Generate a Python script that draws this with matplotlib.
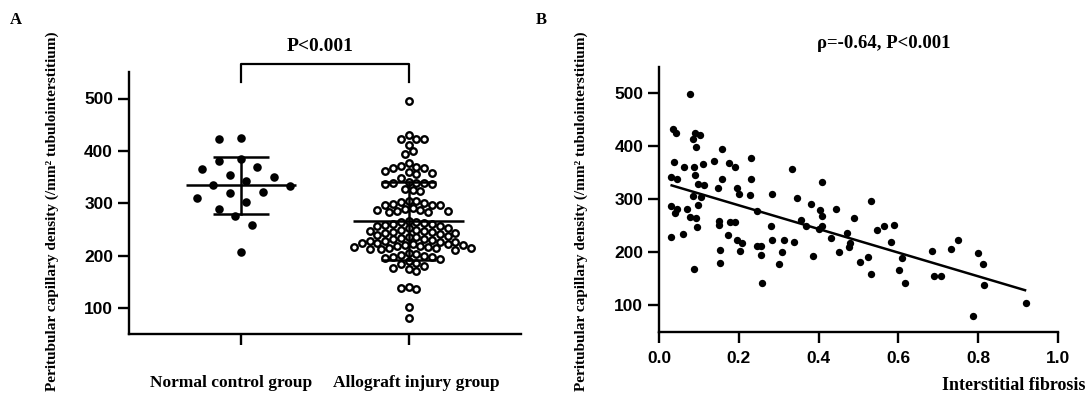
import numpy as np
import matplotlib
matplotlib.use("Agg")
import matplotlib.pyplot as plt
from matplotlib.transforms import ScaledTranslation

# ---------------- data ----------------
groups = ["Normal control group", "Allograft injury group"]

normal_density = [424, 422, 384, 380, 369, 366, 354, 351, 343, 334, 333, 322,
                  320, 311, 303, 290, 276, 259, 208]

allograft_density = [496,
                     431, 423, 423, 422, 412,
                     399, 394,
                     376, 371, 370, 367, 367, 362, 359, 358, 355,
                     348, 340, 338, 338, 338, 337, 336, 327, 325, 323,
                     304, 304, 303, 301, 299, 297, 297, 296,
                     291, 290, 288, 287, 286, 285, 284, 283,
                     267, 265, 264, 262, 261, 260, 258, 257, 256,
                     253, 252, 250, 249, 248, 247, 246, 245, 244, 243, 242, 240, 238, 236,
                     235, 234, 232, 231, 230, 229, 228, 227, 226, 225, 224, 223, 222, 221,
                     220, 219, 218, 217, 216, 215, 215, 214, 213, 212, 211,
                     205, 203, 201, 200, 198, 197, 195, 193,
                     190, 187, 184, 180, 177, 174, 171,
                     141, 139, 136,
                     102,
                     81]

fibrosis = [0.077, 0.034, 0.041, 0.090, 0.102, 0.085, 0.092, 0.157, 0.037, 0.062,
            0.110, 0.138, 0.174, 0.190, 0.229, 0.087, 0.090, 0.029, 0.044, 0.158,
            0.230, 0.096, 0.113, 0.147, 0.196, 0.085, 0.105, 0.200, 0.228, 0.029,
            0.098, 0.045, 0.069, 0.039, 0.077, 0.092, 0.244, 0.150, 0.151, 0.177,
            0.190, 0.095, 0.029, 0.059, 0.173, 0.194, 0.207, 0.203, 0.152, 0.245,
            0.255, 0.152, 0.088, 0.258,
            0.332, 0.408, 0.283, 0.345, 0.381, 0.403, 0.409, 0.443, 0.356, 0.367,
            0.408, 0.401, 0.281, 0.430, 0.470, 0.489, 0.479, 0.477, 0.283, 0.314,
            0.338, 0.255, 0.309, 0.385, 0.450, 0.300, 0.504, 0.523, 0.531, 0.532,
            0.547, 0.563, 0.589, 0.582, 0.610, 0.602, 0.617, 0.684, 0.689, 0.706,
            0.732, 0.751, 0.799, 0.812, 0.815, 0.787, 0.920]

capillary = [498, 433, 425, 425, 422, 414, 399, 395, 370, 361,
             367, 373, 368, 360, 378, 360, 346, 342, 338, 339,
             338, 328, 326, 321, 322, 306, 304, 309, 307, 288,
             289, 281, 281, 273, 267, 265, 278, 259, 251, 256,
             256, 248, 228, 234, 232, 222, 218, 203, 204, 211,
             194, 180, 168, 142,
             357, 332, 310, 302, 290, 280, 268, 282, 260, 250,
             250, 244, 249, 227, 236, 264, 217, 210, 222, 223,
             219, 212, 200, 193, 200, 178, 181, 190, 297, 158,
             242, 249, 251, 219, 188, 166, 142, 203, 155, 155,
             205, 223, 198, 178, 137, 80, 103]

fit_x = [0.031, 0.918]
fit_y = [326, 128]

y_ticks = [100, 200, 300, 400, 500]
x_ticks_B = [0.0, 0.2, 0.4, 0.6, 0.8, 1.0]

# ---------------- layout ----------------
W, H = 1091, 399
fig = plt.figure(figsize=(W / 100, H / 100), dpi=100)
serif = "Liberation Serif"
sans = "Liberation Sans"

axA = fig.add_axes([129 / W, 1 - 334.3 / H, (520.6 - 129) / W, (334.3 - 72.3) / H])
axB = fig.add_axes([659.3 / W, 1 - 331.5 / H, 398.4 / W, (331.5 - 66.8) / H])

A_xlim = (-0.667, 1.667)
ylim = (50, 550)


def style_axes(ax):
    for s in ["top", "right"]:
        ax.spines[s].set_visible(False)
    for s in ["left", "bottom"]:
        ax.spines[s].set_linewidth(1.7)
    ax.tick_params(width=1.7, length=8, labelsize=12.5)
    for lab in ax.get_yticklabels():
        lab.set_fontfamily(sans)
        lab.set_fontweight("bold")


def swarm_offsets(vals, d_px, step_px, xppu, yppu):
    vals = np.asarray(vals, float)
    order = np.argsort(vals)[::-1]
    px, py = [], []
    offs = np.zeros(len(vals))
    for n, i in enumerate(order):
        y = vals[i] * yppu
        cands = [0.0]
        for k in range(1, 80):
            if n % 2 == 0:
                cands += [k * step_px, -k * step_px]
            else:
                cands += [-k * step_px, k * step_px]
        chosen = 0.0
        for c in cands:
            ok = True
            for qx, qy in zip(px, py):
                if (c - qx) ** 2 + (y - qy) ** 2 < d_px ** 2:
                    ok = False
                    break
            if ok:
                chosen = c
                break
        px.append(chosen)
        py.append(y)
        offs[i] = chosen / xppu
    return offs


# ---------------- panel A ----------------
axA.set_xlim(*A_xlim)
axA.set_ylim(*ylim)
posA = axA.get_position()
xppu = posA.width * W / (A_xlim[1] - A_xlim[0])
yppu = posA.height * H / (ylim[1] - ylim[0])

off_n = swarm_offsets(normal_density, 17.0, 5.5, xppu, yppu)
off_a = swarm_offsets(allograft_density, 7.8, 3.9, xppu, yppu)

axA.scatter(0 + off_n, normal_density, s=38, color="black", zorder=2, linewidths=0)
axA.scatter(1 + off_a, allograft_density, s=22, facecolor="white",
            edgecolor="black", linewidths=1.7, zorder=2)

for xc, vals in [(0, normal_density), (1, allograft_density)]:
    m = np.mean(vals)
    sd = np.std(vals, ddof=1)
    axA.plot([xc - 0.33, xc + 0.33], [m, m], color="black", lw=1.8, zorder=3,
             solid_capstyle="butt")
    axA.plot([xc, xc], [m - sd, m + sd], color="black", lw=1.8, zorder=3)
    for yy in (m - sd, m + sd):
        axA.plot([xc - 0.165, xc + 0.165], [yy, yy], color="black", lw=1.8,
                 zorder=3, solid_capstyle="butt")

axA.set_xticks([0, 1])
axA.set_xticklabels(groups, fontfamily=serif, fontweight="bold", fontsize=13)
axA.set_yticks(y_ticks)
style_axes(axA)
axA.tick_params(axis="x", pad=21)
shifts = [-10 / 100, 8 / 100]
for lab, dx in zip(axA.get_xticklabels(), shifts):
    lab.set_transform(lab.get_transform() + ScaledTranslation(dx, 0, fig.dpi_scale_trans))

# significance bracket
axA.plot([0, 0, 1, 1], [531, 566, 566, 531], color="black", lw=1.6,
         clip_on=False, solid_joinstyle="round")
axA.text(0.47, 590, "P<0.001", ha="center", va="baseline", fontfamily=serif,
         fontweight="bold", fontsize=14)

# ---------------- panel B ----------------
axB.set_xlim(0, 1.0)
axB.set_ylim(*ylim)
axB.scatter(fibrosis, capillary, s=28, color="black", linewidths=0, zorder=2)
axB.plot(fit_x, fit_y, color="black", lw=1.8, zorder=3)
axB.set_xticks(x_ticks_B)
axB.set_xticklabels([f"{v:.1f}" for v in x_ticks_B])
axB.set_yticks(y_ticks)
style_axes(axB)
for lab in axB.get_xticklabels():
    lab.set_fontfamily(sans)
    lab.set_fontweight("bold")
axB.tick_params(axis="x", pad=6)
axB.text(0.564, 585, "ρ=-0.64, P<0.001", ha="center", va="baseline",
         fontfamily=serif, fontweight="bold", fontsize=13.5)

# ---------------- figure texts ----------------
ylabel = "Peritubular capillary density (/mm² tubulointerstitium)"
fig.text(52 / W, 1 - 211 / H, ylabel, rotation=90, ha="center", va="center",
         fontfamily=serif, fontweight="bold", fontsize=11)
fig.text(581 / W, 1 - 211 / H, ylabel, rotation=90, ha="center", va="center",
         fontfamily=serif, fontweight="bold", fontsize=11)
fig.text(1085 / W, 1 - 390.5 / H, "Interstitial fibrosis", ha="right",
         va="baseline", fontfamily=serif, fontweight="bold", fontsize=13)
fig.text(10 / W, 1 - 24 / H, "A", ha="left", va="baseline", fontfamily=serif,
         fontweight="bold", fontsize=12)
fig.text(536 / W, 1 - 24 / H, "B", ha="left", va="baseline", fontfamily=serif,
         fontweight="bold", fontsize=12)

fig.savefig("out.png", dpi=100, facecolor="white")
